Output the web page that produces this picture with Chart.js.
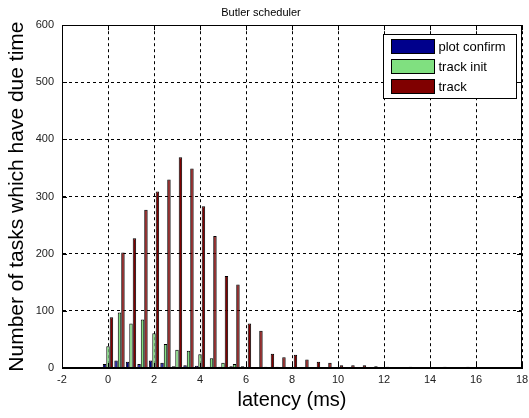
<!DOCTYPE html>
<html>
<head>
<meta charset="utf-8">
<script src="https://cdn.jsdelivr.net/npm/chart.js@4"></script>
<style>
  html, body { margin: 0; padding: 0; background: #fff; }
</style>
</head>
<body>
<canvas id="chart" width="529" height="418"></canvas>
<script>
// latency bins (ms), one group of bars every 0.5 ms
const latency = [0, 0.5, 1, 1.5, 2, 2.5, 3, 3.5, 4, 4.5, 5, 5.5, 6, 6.5, 7, 7.5,
  8, 8.5, 9, 9.5, 10, 10.5, 11, 11.5, 12, 12.5, 13, 13.5, 14, 14.5, 15, 15.5];

const plotConfirm = [7, 13, 11, 7, 13, 9, 3, 5, 4, 2, 2, 3, 3, 0, 2, 2,
  0, 0, 0, 0, 0, 0, 0, 0, 0, 0, 0, 0, 0, 0, 0, 0];
const trackInit = [38, 97, 78, 85, 61, 42, 32, 30, 24, 17, 9, 7, 1, 0, 0, 0,
  0, 0, 0, 0, 0, 0, 0, 0, 0, 0, 0, 0, 0, 0, 0, 0];
const track = [89, 202, 227, 277, 309, 330, 369, 349, 283, 231, 161, 146, 78, 65, 25, 19,
  23, 15, 11, 9, 5, 5, 5, 3, 2, 0, 2, 0, 0, 2, 0, 2];

const seriesNames = ["plot confirm", "track init", "track"];
const seriesColors = ["#00008c", "#80e080", "#800000"];

const FONT = "'Liberation Sans', Arial, sans-serif";

function toPoints(values) {
  return values.map((v, i) => ({ x: latency[i], y: v }));
}

// box round the axes, matlab style inward ticks and the legend
const matlabFrame = {
  id: "matlabFrame",
  afterDatasetsDraw(chart) {
    const { ctx, chartArea: a, scales: { x, y } } = chart;
    ctx.save();
    ctx.strokeStyle = "#000";
    ctx.lineWidth = 1;
    ctx.strokeRect(Math.round(a.left) + 0.5, Math.round(a.top) + 0.5,
      Math.round(a.width) - 1, Math.round(a.height) - 1);

    ctx.beginPath();
    x.ticks.forEach((t) => {
      const px = Math.round(x.getPixelForValue(t.value)) + 0.5;
      ctx.moveTo(px, a.bottom); ctx.lineTo(px, a.bottom - 5);
      ctx.moveTo(px, a.top); ctx.lineTo(px, a.top + 5);
    });
    y.ticks.forEach((t) => {
      const py = Math.round(y.getPixelForValue(t.value)) + 0.5;
      ctx.moveTo(a.left, py); ctx.lineTo(a.left + 5, py);
      ctx.moveTo(a.right, py); ctx.lineTo(a.right - 5, py);
    });
    ctx.stroke();

    // legend
    const w = 133, h = 64;
    const lx = Math.round(a.right - 6 - w) + 0.5;
    const ly = Math.round(a.top + 9) + 0.5;
    ctx.fillStyle = "#fff";
    ctx.fillRect(lx, ly, w, h);
    ctx.strokeRect(lx, ly, w, h);
    ctx.font = "13px " + FONT;
    ctx.textBaseline = "middle";
    ctx.textAlign = "left";
    chart.data.datasets.forEach((ds, i) => {
      const sy = ly + 5 + i * 20;
      ctx.fillStyle = ds.backgroundColor;
      ctx.fillRect(lx + 8, sy, 43, 14);
      ctx.strokeRect(lx + 8, sy, 43, 14);
      ctx.fillStyle = "#000";
      ctx.fillText(ds.label, lx + 55, sy + 7.5);
    });
    ctx.restore();
  }
};

new Chart(document.getElementById("chart"), {
  type: "bar",
  data: {
    datasets: [plotConfirm, trackInit, track].map((vals, i) => ({
      label: seriesNames[i],
      data: toPoints(vals),
      backgroundColor: seriesColors[i],
      borderColor: "#000",
      borderWidth: 1,
      categoryPercentage: 0.9,
      barPercentage: 1.0,
    })),
  },
  options: {
    responsive: false,
    animation: false,
    devicePixelRatio: 1,
    layout: { padding: { left: 0, right: 7, top: 0, bottom: 0 } },
    plugins: {
      legend: { display: false },
      tooltip: { enabled: false },
      title: {
        display: true,
        text: "Butler scheduler",
        color: "#000",
        font: { family: FONT, size: 11, weight: "normal", lineHeight: 1.2 },
        padding: { top: 6, bottom: 6 },
      },
    },
    scales: {
      x: {
        type: "linear",
        min: -2,
        max: 18,
        offset: false,
        grid: { offset: false, color: "#000", lineWidth: 1, drawTicks: false },
        border: { display: true, color: "#000", dash: [3, 3] },
        ticks: {
          stepSize: 2,
          padding: 5,
          color: "#222",
          font: { family: FONT, size: 11 },
          maxRotation: 0,
        },
        title: {
          display: true,
          text: "latency (ms)",
          color: "#000",
          font: { family: FONT, size: 20, lineHeight: 1.2 },
          padding: { top: 0, bottom: 6 },
        },
        afterFit: (s) => { s.height = 50; s.paddingLeft = 0; s.paddingRight = 0; },
      },
      y: {
        min: 0,
        max: 600,
        grid: { color: "#000", lineWidth: 1, drawTicks: false },
        border: { display: true, color: "#000", dash: [3, 3] },
        ticks: {
          stepSize: 100,
          padding: 8,
          color: "#222",
          font: { family: FONT, size: 11 },
        },
        title: {
          display: true,
          text: "Number of tasks which have due time",
          color: "#000",
          font: { family: FONT, size: 21, lineHeight: 1.2 },
          padding: { top: 5, bottom: 0 },
        },
        afterFit: (s) => { s.width = 62; s.paddingTop = 0; s.paddingBottom = 0; },
      },
    },
  },
  plugins: [matlabFrame],
});
</script>
</body>
</html>
